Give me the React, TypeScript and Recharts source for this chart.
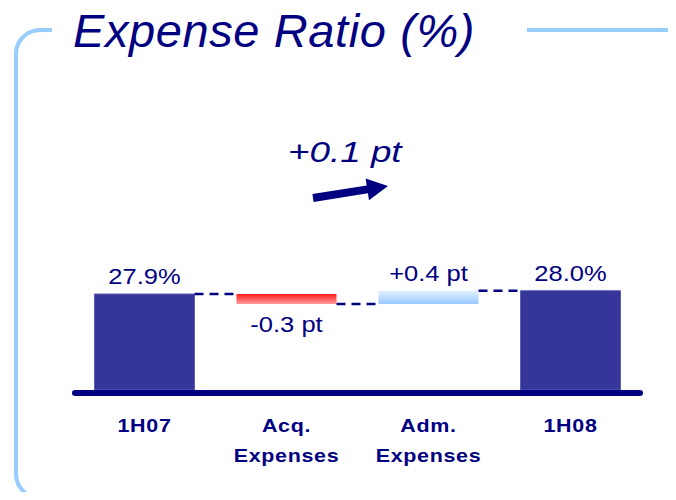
import { BarChart, Bar, XAxis, YAxis, Cell, LabelList, ReferenceLine } from 'recharts'

const categories = ['1H07', 'Acq.\nExpenses', 'Adm.\nExpenses', '1H08']
const changes = [27.9, -0.3, 0.4, 28.0]
const isTotal = [true, false, false, true]
const Y_MIN = 25
const Y_MAX = 29.2

const NAVY = '#000080'
const BAR_SIZE = 100
const FONT = '"Liberation Sans", Arial, sans-serif'

// running waterfall: totals are plain values, deltas are [low, high] ranges
let running = 0
const data = categories.map((name, i) => {
  const v = changes[i]
  if (isTotal[i]) {
    running = v
    return { name, value: v, label: `${v.toFixed(1)}%`, level: v }
  }
  const from = running
  running = +(running + v).toFixed(2)
  return {
    name,
    value: [Math.min(from, running), Math.max(from, running)],
    label: `${v > 0 ? '+' : '-'}${Math.abs(v).toFixed(1)} pt`,
    level: running,
  }
})
const fills = ['#35359a', 'url(#acqGrad)', 'url(#admGrad)', '#35359a']
const netChange = changes[3] - changes[0]

// text in the source is stretched sideways, so scale x instead of spacing letters
const Wide = ({ x, y, sx, children, ...rest }: any) => (
  <g transform={`translate(${x},${y}) scale(${sx},1)`}>
    <text x={0} y={0} fill={NAVY} style={{ fontFamily: FONT }} {...rest}>{children}</text>
  </g>
)

const Tick = ({ x, y, payload }: any) => {
  const lines = String(payload.value).split('\n')
  return (
    <g>
      {lines.map((l, i) => (
        <Wide key={i} x={x} y={y + 42 + i * 30} sx={1.13} textAnchor="middle" fontSize={19} fontWeight={700}
          style={{ fontFamily: FONT, letterSpacing: 0.6 }}>{l}</Wide>
      ))}
    </g>
  )
}

const ValueLabel = (props: any) => {
  const vb = props.viewBox ?? props
  const x = props.x ?? vb.x, y = props.y ?? vb.y
  const width = props.width ?? vb.width, height = props.height ?? vb.height
  const text = String(props.value)
  const below = text.startsWith('-')
  return (
    <Wide x={x + width / 2} y={below ? y + height + 28 : y - 10} sx={1.16} textAnchor="middle" fontSize={22}>
      {text}
    </Wide>
  )
}

const connectorShape = (p: any) => (
  <line x1={p.x1 + BAR_SIZE / 2} y1={p.y1} x2={p.x2 - BAR_SIZE / 2} y2={p.y2}
    stroke={NAVY} strokeWidth={2.5} strokeDasharray="9 6" />
)

const baselineShape = (p: any) => (
  <line x1={p.x1 + 1.5} y1={p.y1 + 3} x2={p.x2 - 1.5} y2={p.y2 + 3}
    stroke={NAVY} strokeWidth={6} strokeLinecap="round" />
)

export default function App() {
  return (
    <div style={{ position: 'relative', width: 676, height: 500, margin: -8, background: '#fff', overflow: 'hidden' }}>
      <svg width={676} height={500} style={{ position: 'absolute', left: 0, top: 0 }}>
        <defs>
          <linearGradient id="acqGrad" x1="0" y1="0" x2="0" y2="1">
            <stop offset="0%" stopColor="#ff1a1a" />
            <stop offset="100%" stopColor="#ff9c9c" />
          </linearGradient>
          <linearGradient id="admGrad" x1="0" y1="0" x2="0" y2="1">
            <stop offset="0%" stopColor="#e2f0ff" />
            <stop offset="100%" stopColor="#99c9ff" />
          </linearGradient>
        </defs>
        {/* frame */}
        <path d="M52 30 H40 A24 24 0 0 0 16 54 V474 A24 24 0 0 0 40 498 H60" fill="none" stroke="#99ccff" strokeWidth={4} />
        <line x1={527} y1={30} x2={676} y2={30} stroke="#99ccff" strokeWidth={4} />
        <text x={73} y={47} fill={NAVY} fontSize={47} fontStyle="italic"
          style={{ letterSpacing: 0.6, fontFamily: FONT }}>Expense Ratio (%)</text>
        <Wide x={288} y={162} sx={1.27} fontSize={29} fontStyle="italic">
          {`${netChange >= 0 ? '+' : '-'}${Math.abs(netChange).toFixed(1)} pt`}
        </Wide>
        <polygon points="312.4,194.1 313.6,201.9 367.9,193.2 369,200.2 388,186 365.6,178.4 366.7,185.4" fill={NAVY} />
      </svg>
      <div style={{ position: 'absolute', left: 0, top: 0 }}>
        <BarChart width={676} height={500} data={data} margin={{ top: 251, right: 34.5, bottom: 30, left: 73.5 }}>
          <XAxis dataKey="name" axisLine={false} tickLine={false} tickSize={0} tickMargin={0} height={80}
            interval={0} tick={<Tick />} />
          <YAxis hide domain={[Y_MIN, Y_MAX]} type="number" allowDataOverflow />
          <ReferenceLine y={Y_MIN} ifOverflow="visible" shape={baselineShape} />
          {data.slice(0, -1).map((d, i) => (
            <ReferenceLine key={i} ifOverflow="visible" shape={connectorShape}
              segment={[{ x: d.name, y: d.level }, { x: data[i + 1].name, y: d.level }]} />
          ))}
          <Bar dataKey="value" barSize={BAR_SIZE} isAnimationActive={false}>
            {data.map((d, i) => (
              <Cell key={i} fill={fills[i]} stroke={isTotal[i] ? '#5d5db4' : 'none'} strokeWidth={1} />
            ))}
            <LabelList dataKey="label" content={<ValueLabel />} />
          </Bar>
        </BarChart>
      </div>
    </div>
  )
}
